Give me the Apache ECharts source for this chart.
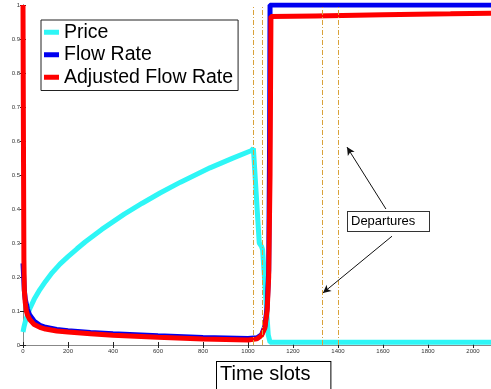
<!DOCTYPE html>
<html>
<head>
<meta charset="utf-8">
<script src="https://cdn.jsdelivr.net/npm/echarts@6/dist/echarts.min.js"></script>
<style>
  html, body { margin: 0; padding: 0; background: #fff; }
  #chart { width: 491px; height: 389px; }
</style>
</head>
<body>
<div id="chart"></div>
<script>
// Price over time slots: [slot, value]
const price = [
  [0, 0.038], [5, 0.055], [10, 0.068], [20, 0.09], [31, 0.108], [50, 0.135],
  [75, 0.163], [100, 0.187], [130, 0.213], [164, 0.238], [200, 0.26],
  [240, 0.283], [276, 0.303], [350, 0.34], [450, 0.385], [530, 0.417],
  [609, 0.447], [700, 0.479], [831, 0.521], [930, 0.549], [1016, 0.572],
  [1024, 0.578], [1050, 0.3], [1060, 0.29], [1065, 0.28], [1090, 0.03],
  [1098, 0.008], [1300, 0.008], [1600, 0.008], [2080, 0.008]
];
// Flow rate over time slots
const flowRate = [
  [0, 0.24], [3, 0.2], [6, 0.16], [10, 0.135], [20, 0.105], [30, 0.088],
  [50, 0.07], [75, 0.058], [100, 0.052], [150, 0.046], [200, 0.042],
  [300, 0.037], [400, 0.033], [600, 0.027], [800, 0.022], [1000, 0.019],
  [1040, 0.021], [1060, 0.03], [1075, 0.055], [1085, 0.11], [1092, 0.22],
  [1096, 0.6], [1098, 1.0], [1500, 1.0], [2080, 1.0]
];
// Adjusted flow rate over time slots
const adjustedFlowRate = [
  [0, 1.0], [2, 0.6], [4, 0.25], [6, 0.16], [10, 0.125], [15, 0.1],
  [20, 0.088], [30, 0.075], [50, 0.06], [75, 0.052], [100, 0.047],
  [150, 0.041], [200, 0.038], [300, 0.033], [400, 0.029], [600, 0.023],
  [800, 0.018], [1000, 0.015], [1040, 0.018], [1060, 0.028], [1075, 0.05],
  [1085, 0.1], [1092, 0.2], [1098, 0.5], [1102, 0.966], [1300, 0.968],
  [1600, 0.971], [1900, 0.974], [2080, 0.976]
];
// Event markers (dash-dot verticals)
const eventSlots = [1024, 1064, 1328, 1399];
// "Departures" pointer arrows: [from, to]
const departureArrows = [
  [[1613, 0.4], [1440, 0.582]],
  [[1640, 0.32], [1333, 0.153]]
];
const xTicks = { min: 0, max: 2080, interval: 200 };
const yTicks = { min: 0, max: 1, interval: 0.1 };
const seriesNames = ['Price', 'Flow Rate', 'Adjusted Flow Rate'];

const FONT = 'Liberation Sans, Arial, Helvetica, sans-serif';
const chart = echarts.init(document.getElementById('chart'), null, { renderer: 'canvas' });

const axisLineStyle = { color: '#444', width: 1 };
const tickStyle = { color: '#222', width: 1 };
const tinyLabel = { fontSize: 6, color: '#333', fontFamily: FONT };

chart.setOption({
  animation: false,
  backgroundColor: '#fff',
  grid: { left: 23, right: 0, top: 5, bottom: 44 },
  legend: {
    data: seriesNames,
    orient: 'vertical',
    left: 41,
    top: 20,
    icon: 'rect',
    itemWidth: 15,
    itemHeight: 5,
    itemGap: 0,
    padding: [1, 5, 2, 3],
    backgroundColor: '#fff',
    borderColor: '#222',
    borderWidth: 1,
    textStyle: { fontSize: 19.5, fontFamily: FONT, color: '#000', lineHeight: 22.5 }
  },
  xAxis: [
    {
      type: 'value', position: 'bottom',
      min: xTicks.min, max: xTicks.max, interval: xTicks.interval,
      axisLine: { show: true, lineStyle: axisLineStyle },
      axisTick: { show: true, inside: true, length: 3, lineStyle: tickStyle },
      axisLabel: { ...tinyLabel, margin: 3, showMaxLabel: false, formatter: v => String(v) },
      splitLine: { show: false }
    },
    {
      type: 'value', position: 'top',
      min: xTicks.min, max: xTicks.max, interval: xTicks.interval,
      axisLine: { show: true, lineStyle: { color: '#888', width: 1 } },
      axisTick: { show: true, inside: true, length: 3, lineStyle: tickStyle },
      axisLabel: { show: false },
      splitLine: { show: false }
    }
  ],
  yAxis: [
    {
      type: 'value', position: 'left',
      min: yTicks.min, max: yTicks.max, interval: yTicks.interval,
      axisLine: { show: true, lineStyle: axisLineStyle },
      axisTick: { show: true, inside: true, length: 3, lineStyle: tickStyle },
      axisLabel: { ...tinyLabel, margin: 3, formatter: v => String(Math.round(v * 10) / 10) },
      splitLine: { show: false }
    },
    {
      type: 'value', position: 'right',
      min: yTicks.min, max: yTicks.max, interval: yTicks.interval,
      axisLine: { show: true, lineStyle: { color: '#888', width: 1 } },
      axisTick: { show: true, inside: true, length: 3, lineStyle: tickStyle },
      axisLabel: { show: false },
      splitLine: { show: false }
    }
  ],
  series: [
    {
      name: seriesNames[0], type: 'line', data: price,
      showSymbol: false, color: '#2ef6f6',
      lineStyle: { width: 5, color: '#2ef6f6' },
      markLine: {
        silent: true, symbol: ['none', 'none'], label: { show: false },
        lineStyle: { color: '#d9a23a', width: 1, type: [5, 2, 1, 2] },
        data: eventSlots.map(v => ({ xAxis: v }))
      },
      z: 2
    },
    {
      name: seriesNames[1], type: 'line', data: flowRate,
      showSymbol: false, color: '#0000f0',
      lineStyle: { width: 5, color: '#0000f0' },
      z: 3
    },
    {
      name: seriesNames[2], type: 'line', data: adjustedFlowRate,
      showSymbol: false, color: '#ff0000',
      lineStyle: { width: 5, color: '#ff0000' },
      markLine: {
        silent: true, symbol: ['none', 'arrow'], symbolSize: [6, 8],
        label: { show: false },
        lineStyle: { color: '#111', width: 1, type: 'solid' },
        data: departureArrows.map(([a, b]) => [{ coord: a }, { coord: b }])
      },
      z: 4
    }
  ],
  graphic: [
    {
      type: 'text', left: 347, top: 211, z: 10,
      style: {
        text: 'Departures', fontSize: 13, fontFamily: FONT, fill: '#000',
        backgroundColor: '#fff', borderColor: '#333', borderWidth: 1,
        padding: [3, 14, 3, 3], width: 64
      }
    },
    {
      type: 'text', left: 216, top: 361, z: 10,
      style: {
        text: 'Time slots', fontSize: 20, fontFamily: FONT, fill: '#000',
        backgroundColor: '#fff', borderColor: '#000', borderWidth: 1,
        padding: [2, 20, 14, 3]
      }
    }
  ]
});
</script>
</body>
</html>
